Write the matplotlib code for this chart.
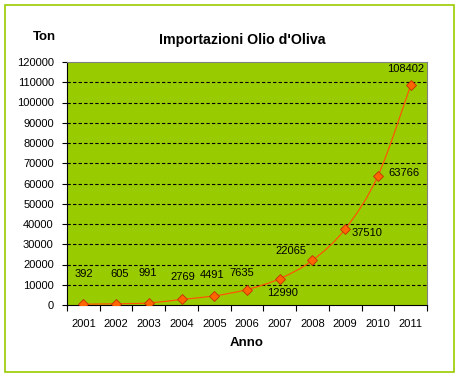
import matplotlib
matplotlib.use("Agg")
import matplotlib.pyplot as plt
from matplotlib.path import Path
from matplotlib.patches import PathPatch, Rectangle
import numpy as np

plt.rcParams['font.family'] = ['Liberation Sans', 'DejaVu Sans']

years = ['2001', '2002', '2003', '2004', '2005', '2006', '2007', '2008', '2009', '2010', '2011']
values = [392, 605, 991, 2769, 4491, 7635, 12990, 22065, 37510, 63766, 108402]
# label offsets in pixels (dx, dy) relative to each point
label_offsets = [(1, 30), (4, 30), (-1, 30), (1, 22), (-2, 21), (-5, 17), (3, -14),
                 (-22, 9), (22, -4), (26, 3), (-5, 16)]

DPI = 100
fig = plt.figure(figsize=(4.61, 3.78), dpi=DPI)
fig.patch.set_facecolor('white')
# outer green frame
fig.add_artist(Rectangle((5 / 461, 6 / 378), 449 / 461, 367 / 378, transform=fig.transFigure,
                         fill=False, edgecolor='#99CC00', linewidth=1.2))

ax = fig.add_axes([67 / 461, 73 / 378, 360 / 461, 243 / 378])
ax.set_facecolor('#99CC00')
x = np.arange(len(years))
ax.set_xlim(-0.5, len(years) - 0.5)
ax.set_ylim(0, 120000)
ax.set_yticks(np.arange(0, 120001, 10000))
ax.set_yticklabels([str(v) for v in range(0, 120001, 10000)], fontsize=8)
ax.set_xticks(x)
ax.set_xticklabels(years, fontsize=8)
ax.set_xticks(np.arange(-0.5, len(years), 1), minor=True)
ax.tick_params(axis='x', which='major', length=0, pad=10)
ax.tick_params(axis='x', which='minor', length=4, width=0.8, direction='out')
ax.tick_params(axis='y', length=3.5, width=0.8, direction='out', pad=6)
for yv in range(10000, 120000, 10000):
    ax.axhline(yv, color='black', linestyle=(0, (3, 2)), linewidth=0.8, zorder=1)
for s in ['top', 'right']:
    ax.spines[s].set_color('#808080')
    ax.spines[s].set_linewidth(0.8)
for s in ['left', 'bottom']:
    ax.spines[s].set_color('black')
    ax.spines[s].set_linewidth(0.8)

# smoothed line (Bezier through data points, computed from data)
pts = np.column_stack([x, values]).astype(float)
verts = [tuple(pts[0])]
codes = [Path.MOVETO]
n = len(pts)
for i in range(n - 1):
    p0 = pts[i - 1] if i > 0 else pts[i]
    p1 = pts[i]
    p2 = pts[i + 1]
    p3 = pts[i + 2] if i + 2 < n else pts[i + 1]
    c1 = p1 + (p2 - p0) / 6
    c2 = p2 - (p3 - p1) / 6
    verts += [tuple(c1), tuple(c2), tuple(p2)]
    codes += [Path.CURVE4] * 3
ax.add_patch(PathPatch(Path(verts, codes), fill=False, edgecolor='#FF5500', linewidth=0.9, zorder=3))
ax.plot(x, values, linestyle='none', marker='D', markersize=5, markerfacecolor='#FF6600',
        markeredgecolor='#C03000', markeredgewidth=0.6, zorder=4)

for xi, v, (dx, dy) in zip(x, values, label_offsets):
    ax.annotate(str(v), (xi, v), xytext=(dx, dy), textcoords='offset pixels',
                ha='center', va='center', fontsize=8, color='black', zorder=5)

fig.text(242 / 461, 1 - 40 / 378, "Importazioni Olio d'Oliva", ha='center', va='center',
         fontsize=10.2, fontweight='bold')
fig.text(44 / 461, 1 - 37 / 378, 'Ton', ha='center', va='center', fontsize=9.5, fontweight='bold')
fig.text(247 / 461, 1 - 343 / 378, 'Anno', ha='center', va='center', fontsize=9.5, fontweight='bold')

fig.savefig('out.png', dpi=DPI)
